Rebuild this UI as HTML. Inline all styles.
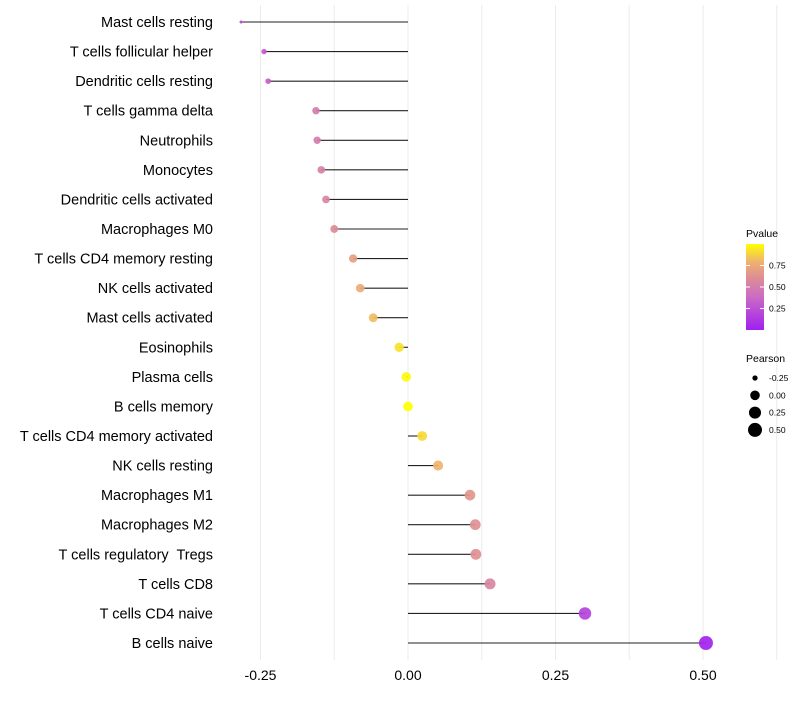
<!DOCTYPE html>
<html><head><meta charset="utf-8"><style>
body{margin:0;background:#fff;font-family:"Liberation Sans",sans-serif}
text{white-space:pre}
</style></head><body>
<svg id="chart" width="800" height="700" xmlns="http://www.w3.org/2000/svg"></svg>
<script>
const cells=["Mast cells resting","T cells follicular helper","Dendritic cells resting","T cells gamma delta","Neutrophils","Monocytes","Dendritic cells activated","Macrophages M0","T cells CD4 memory resting","NK cells activated","Mast cells activated","Eosinophils","Plasma cells","B cells memory","T cells CD4 memory activated","NK cells resting","Macrophages M1","Macrophages M2","T cells regulatory  Tregs","T cells CD8","T cells CD4 naive","B cells naive"];
const pearson=[-0.283,-0.244,-0.237,-0.156,-0.154,-0.147,-0.139,-0.125,-0.093,-0.081,-0.059,-0.015,-0.003,0.0,0.024,0.051,0.105,0.114,0.115,0.139,0.300,0.505];
const pvalue=[0.20,0.30,0.32,0.50,0.50,0.52,0.55,0.60,0.70,0.75,0.82,0.92,0.98,1.0,0.90,0.80,0.65,0.62,0.62,0.55,0.18,0.02];
const xTicks=[-0.25,0,0.25,0.5];
const xTickLabels=["-0.25","0.00","0.25","0.50"];
const sizeLegend=[-0.25,0,0.25,0.5];
const sizeLegendLabels=["-0.25","0.00","0.25","0.50"];
const pTicks=[0.25,0.5,0.75];

const svg=document.getElementById('chart');
const NS="http://www.w3.org/2000/svg";
const X=v=>408+v*590;
const Y=i=>22+i*(621/21);
const R=v=>1.5+5.5*Math.sqrt(Math.max(0,(v+0.283)/0.788));
const stops=[[0,[160,32,240]],[0.4,[205,110,195]],[0.6,[220,140,150]],[0.8,[240,180,110]],[1,[255,255,0]]];
function col(p){for(let k=1;k<stops.length;k++){if(p<=stops[k][0]){const a=stops[k-1],b=stops[k];const t=(p-a[0])/(b[0]-a[0]);const c=a[1].map((v,j)=>Math.round(v+(b[1][j]-v)*t));return `rgb(${c})`;}}return 'rgb(255,255,0)';}
function mk(tag,attrs,parent){const e=document.createElementNS(NS,tag);for(const k in attrs)e.setAttribute(k,attrs[k]);(parent||svg).appendChild(e);return e;}

for(let g=-0.25;g<=0.626;g+=0.125){
 const l=mk('line',{x1:X(g),x2:X(g),y1:5,y2:660,stroke:'#ebebeb','stroke-width':1});
 
 
}
xTicks.forEach((t,i)=>{
 const tx=mk('text',{x:X(t),y:680,'text-anchor':'middle','font-size':14,fill:'#000'});
 tx.textContent=xTickLabels[i];
 
 
});
cells.forEach((c,i)=>{
 const y=Y(i);
 const lab=mk('text',{x:213,y:y+5,'text-anchor':'end','font-size':14.5,fill:'#000'});
 lab.textContent=c;
 
 
 const st=mk('line',{x1:X(0),x2:X(pearson[i]),y1:y,y2:y,stroke:'#222','stroke-width':1.1});
 
 
 const pt=mk('circle',{cx:X(pearson[i]),cy:y,r:R(pearson[i]),fill:col(pvalue[i]),'fill-opacity':0.92});
 
 
});
const defs=mk('defs',{});
const lg=mk('linearGradient',{id:'pg',x1:0,y1:1,x2:0,y2:0},defs);
stops.forEach(s=>mk('stop',{offset:s[0],'stop-color':`rgb(${s[1]})`},lg));
const lt=mk('text',{x:746,y:237,'font-size':10.5});lt.textContent='Pvalue';


const cb=mk('rect',{x:746,y:244,width:18,height:86,fill:'url(#pg)'});


pTicks.forEach(p=>{
 const y=330-p*86;
 mk('line',{x1:746,x2:750,y1:y,y2:y,stroke:'#fff'});
 mk('line',{x1:760,x2:764,y1:y,y2:y,stroke:'#fff'});
 const t=mk('text',{x:769,y:y+3,'font-size':8.5});t.textContent=p.toFixed(2);
 
 
});
const st2=mk('text',{x:746,y:362,'font-size':10.5});st2.textContent='Pearson';


sizeLegend.forEach((v,i)=>{
 const y=378+i*17.3;
 const c=mk('circle',{cx:755,cy:y,r:R(v),fill:'#000'});
 
 
 const t=mk('text',{x:769,y:y+3,'font-size':8.5});t.textContent=sizeLegendLabels[i];
 
 
});
</script>
</body></html>
